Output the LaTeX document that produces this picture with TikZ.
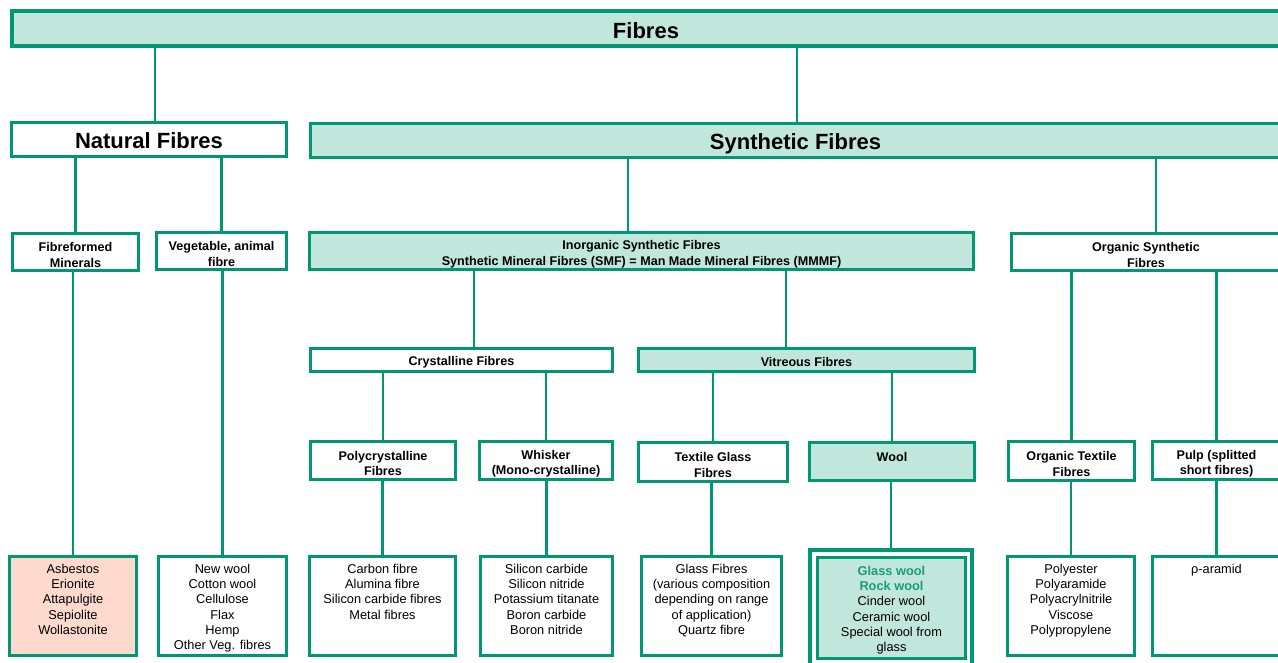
\documentclass[tikz,border=0pt]{standalone}
\usepackage{fontspec}
\setmainfont{Liberation Sans}
\usetikzlibrary{positioning}

\definecolor{fibreline}{RGB}{0,152,116}
\definecolor{fibrefill}{RGB}{193,230,219}
\definecolor{fibrepink}{RGB}{253,218,205}
\definecolor{fibretext}{RGB}{26,158,118}

\begin{document}
\begin{tikzpicture}[x=1pt,y=-1pt]

\tikzset{
  box/.style={draw=fibreline,line width=3pt,fill=white,inner sep=0pt,align=center,
    font=\fontsize{12.6}{15.5}\selectfont\bfseries},
  oneline/.style={text height=13pt},
  twoline/.style={text height=31pt},
  big/.style={text height=19pt,text depth=0pt,font=\fontsize{22}{26}\selectfont\bfseries},
  filled/.style={fill=fibrefill},
  leaf/.style={box,minimum height=99pt},
  list/.style={inner sep=0pt,align=center,font=\fontsize{12.8}{15.2}\selectfont},
  link/.style={draw=fibreline,line width=2.5pt},
}

\useasboundingbox (0,0) rectangle (1278,663);
\clip (0,0) rectangle (1278,663);

% level 1 and 2
\node[box,big,filled,line width=4pt,minimum width=1268pt,minimum height=35pt] (fibres) at (646,29) {Fibres};
\node[box,big,minimum width=275pt,minimum height=34pt] (natural) at (149,139.5) {Natural Fibres};
\node[box,big,filled,minimum width=970pt,minimum height=34pt] (synth) at (795.5,140.5) {Synthetic Fibres};

% level 3
\node[box,twoline,minimum width=126pt,minimum height=37pt] (minerals) at (75.5,252) {Fibreformed\\Minerals};
\node[box,twoline,minimum width=130pt,minimum height=37pt] (veg) at (221.5,251) {Vegetable, animal\\fibre};
\node[box,twoline,filled,minimum width=664pt,minimum height=37pt] (inorg) at (641.5,251)
  {Inorganic Synthetic Fibres\\Synthetic Mineral Fibres (SMF) = Man Made Mineral Fibres (MMMF)};
\node[box,twoline,minimum width=269pt,minimum height=37pt] (organic) at (1146,252) {Organic Synthetic\\Fibres};

% level 4
\node[box,oneline,minimum width=302pt,minimum height=23pt] (cryst) at (461.5,360) {Crystalline Fibres};
\node[box,oneline,filled,minimum width=336pt,minimum height=23pt] (vitr) at (806.5,360) {Vitreous Fibres};

% level 5
\node[box,twoline,minimum width=145pt,minimum height=38pt] (poly) at (383,460.5) {Polycrystalline\\Fibres};
\node[box,twoline,minimum width=133pt,minimum height=38pt] (whisker) at (546,460.5) {Whisker\\(Mono-crystalline)};
\node[box,twoline,minimum width=149pt,minimum height=39pt] (textile) at (713,462) {Textile Glass\\Fibres};
\node[box,twoline,filled,minimum width=165pt,minimum height=38pt] (wool) at (892,461.5) {Wool\\\mbox{}};
\node[box,twoline,minimum width=126pt,minimum height=39pt] (orgtext) at (1071.5,461) {Organic Textile\\Fibres};
\node[box,twoline,minimum width=128pt,minimum height=38pt] (pulp) at (1216.5,460.5) {Pulp (splitted\\short fibres)};

% leaves
\node[leaf,fill=fibrepink,minimum width=127pt] (asbestos) at (73,606) {};
\node[leaf,minimum width=128pt] (newwool) at (222.5,606) {};
\node[leaf,minimum width=146pt] (carbon) at (382.5,606) {};
\node[leaf,minimum width=132pt] (silicon) at (546.5,606) {};
\node[leaf,minimum width=140pt] (glass) at (711.5,606) {};
\node[box,line width=4pt,minimum width=162pt,minimum height=116pt] (woolout) at (891,608) {};
\node[box,filled,minimum width=148pt,minimum height=101pt] (woolin) at (891.5,608) {};
\node[leaf,minimum width=127pt] (polyester) at (1071,606) {};
\node[leaf,minimum width=128pt] (aramid) at (1216.5,606) {};

\node[list,below=9pt of asbestos.north] (asbestos-list) {Asbestos\\Erionite\\Attapulgite\\Sepiolite\\Wollastonite};
\node[list,below=9pt of newwool.north] (newwool-list) {New wool\\Cotton wool\\Cellulose\\Flax\\Hemp\\Other Veg. fibres};
\node[list,below=9pt of carbon.north] (carbon-list) {Carbon fibre\\Alumina fibre\\Silicon carbide fibres\\Metal fibres};
\node[list,below=9pt of silicon.north] (silicon-list) {Silicon carbide\\Silicon nitride\\Potassium titanate\\Boron carbide\\Boron nitride};
\node[list,below=9pt of glass.north] (glass-list) {Glass Fibres\\(various composition\\depending on range\\of application)\\Quartz fibre};
\node[list,below=10pt of woolin.north] (wool-list)
  {\textcolor{fibretext}{\bfseries Glass wool}\\\textcolor{fibretext}{\bfseries Rock wool}\\Cinder wool\\Ceramic wool\\Special wool from\\glass};
\node[list,below=9pt of polyester.north] (polyester-list) {Polyester\\Polyaramide\\Polyacrylnitrile\\Viscose\\Polypropylene};
\node[list,below=9pt of aramid.north] (aramid-list) {ρ-aramid};

% connectors with an offset from the child centre
\coordinate (natural-in) at ([xshift=6pt]natural.north);
\coordinate (synth-in) at ([xshift=1.5pt]synth.north);
\coordinate (inorg-in) at ([xshift=-13.5pt]inorg.north);
\coordinate (organic-in) at ([xshift=10pt]organic.north);
\coordinate (cryst-in) at ([xshift=12.5pt]cryst.north);
\coordinate (vitr-in) at ([xshift=-20.5pt]vitr.north);

\draw[link] (natural-in |- fibres.south) -- (natural-in);
\draw[link] (synth-in |- fibres.south) -- (synth-in);
\draw[link] (minerals.north |- natural.south) -- (minerals.north);
\draw[link] (veg.north |- natural.south) -- (veg.north);
\draw[link] (inorg-in |- synth.south) -- (inorg-in);
\draw[link] (organic-in |- synth.south) -- (organic-in);
\draw[link] (cryst-in |- inorg.south) -- (cryst-in);
\draw[link] (vitr-in |- inorg.south) -- (vitr-in);
\draw[link] (poly.north |- cryst.south) -- (poly.north);
\draw[link] (whisker.north |- cryst.south) -- (whisker.north);
\draw[link] (textile.north |- vitr.south) -- (textile.north);
\draw[link] (wool.north |- vitr.south) -- (wool.north);
\draw[link] (orgtext.north |- organic.south) -- (orgtext.north);
\draw[link] (pulp.north |- organic.south) -- (pulp.north);

\draw[link] (minerals.south -| asbestos.north) -- (asbestos.north);
\draw[link] (veg.south -| newwool.north) -- (newwool.north);
\draw[link] (poly.south -| carbon.north) -- (carbon.north);
\draw[link] (whisker.south -| silicon.north) -- (silicon.north);
\draw[link] (textile.south -| glass.north) -- (glass.north);
\draw[link] (wool.south -| woolout.north) -- (woolout.north);
\draw[link] (orgtext.south -| polyester.north) -- (polyester.north);
\draw[link] (pulp.south -| aramid.north) -- (aramid.north);

\end{tikzpicture}
\end{document}
